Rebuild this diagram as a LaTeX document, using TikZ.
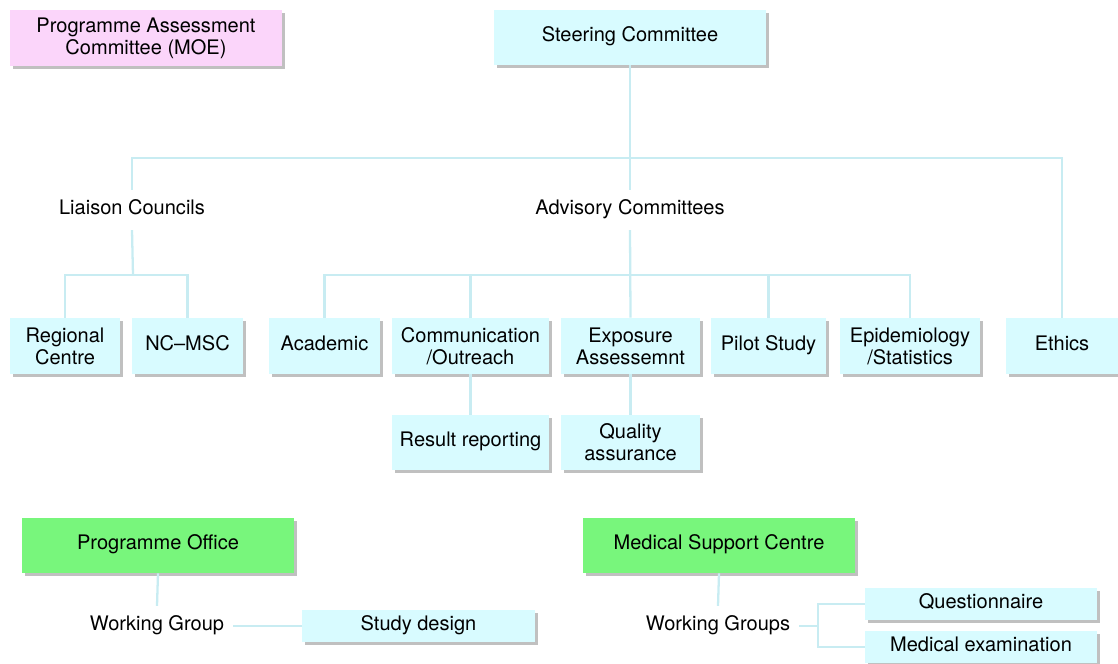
\documentclass[tikz,border=0pt]{standalone}
\usepackage{fontspec}
\setmainfont{TeX Gyre Heros}
\usepackage{tikz}
\usetikzlibrary{shadows}
\definecolor{boxcyan}{RGB}{216,251,255}
\definecolor{boxpink}{RGB}{251,213,250}
\definecolor{boxgreen}{RGB}{120,246,124}
\definecolor{linecyan}{RGB}{200,236,242}
\tikzstyle{unit} = [rectangle, draw=none, fill=boxcyan, align=center, inner sep=1pt,
	drop shadow={shadow xshift=1.6pt, shadow yshift=-1.6pt, fill=black!45, opacity=0.55}]
\tikzstyle{office} = [unit, fill=boxgreen]
\tikzstyle{moe} = [unit, fill=boxpink]
\tikzstyle{label} = [align=center, inner sep=5pt]
\tikzstyle{conn} = [draw=linecyan, line width=1.3pt]

\begin{document}
\begin{tikzpicture}[x=0.02cm,y=-0.02cm]
	\tikzstyle{every node}=[font=\fontsize{11.4}{12.6}\selectfont]
	\useasboundingbox (0,0) rectangle (1118,663);
	
	% ------------------- Top level ------------------- %
	\node[moe, minimum width=5.44cm, minimum height=1.12cm] (pac) at (146,38) {Programme Assessment\\Committee (MOE)};
	\node[unit, minimum width=5.44cm, minimum height=1.1cm] (steer) at (630,37.5) {Steering Committee\strut};
	
	\node[label] (liaison) at (132,210) {Liaison Councils\strut};
	\node[label] (advisory) at (630,210) {Advisory Committees\strut};
	
	% ------------------- Committee boxes ------------------- %
	\node[unit, minimum width=2.2cm, minimum height=1.12cm] (regional) at (65,346) {Regional\\Centre};
	\node[unit, minimum width=2.22cm, minimum height=1.12cm] (ncmsc) at (187.5,346) {NC--MSC\strut};
	\node[unit, minimum width=2.22cm, minimum height=1.12cm] (academic) at (324.5,346) {Academic\strut};
	\node[unit, minimum width=3.14cm, minimum height=1.12cm] (comm) at (470.5,346) {Communication\\/Outreach};
	\node[unit, minimum width=2.78cm, minimum height=1.12cm] (exposure) at (630.5,346) {Exposure\\Assessemnt};
	\node[unit, minimum width=2.3cm, minimum height=1.12cm] (pilot) at (768.5,346) {Pilot Study\strut};
	\node[unit, minimum width=2.8cm, minimum height=1.12cm] (epi) at (910,346) {Epidemiology\\/Statistics};
	\node[unit, minimum width=2.24cm, minimum height=1.12cm] (ethics) at (1062,346) {Ethics\strut};
	
	\node[unit, minimum width=3.14cm, minimum height=1.1cm] (result) at (470.5,442.5) {Result reporting\strut};
	\node[unit, minimum width=2.78cm, minimum height=1.1cm] (quality) at (630.5,442.5) {Quality\\assurance};
	
	% ------------------- Offices ------------------- %
	\node[office, minimum width=5.44cm, minimum height=1.1cm] (progoffice) at (158,545.5) {Programme Office\strut};
	\node[office, minimum width=5.44cm, minimum height=1.1cm] (msc) at (719,545.5) {Medical Support Centre\strut};
	
	\node[label] (wg) at (157,626) {Working Group\strut};
	\node[label] (wgs) at (718,626) {Working Groups\strut};
	
	\node[unit, minimum width=4.66cm, minimum height=0.64cm] (study) at (418.5,626) {Study design\strut};
	\node[unit, minimum width=4.64cm, minimum height=0.64cm] (quest) at (981,604) {Questionnaire\strut};
	\node[unit, minimum width=4.64cm, minimum height=0.64cm] (medexam) at (981,647) {Medical examination\strut};
	
	% ------------------- Connectors ------------------- %
	\coordinate (bar) at (630,158);
	\coordinate (lbar) at (133,275);
	\coordinate (abar) at (630,275);
	\coordinate (mbar) at (818,626);
	
	\draw[conn] (steer.south) -- (advisory.north);
	\draw[conn] (liaison.north) |- (bar) -| (ethics.north);
	
	\draw[conn] (liaison.south) -- (lbar);
	\draw[conn] (regional.north) |- (lbar) -| (ncmsc.north);
	
	\draw[conn] (advisory.south) -- (exposure.north);
	\draw[conn] (academic.north) |- (abar) -| (epi.north);
	\draw[conn] (comm.north) -- (comm.north |- abar);
	\draw[conn] (pilot.north) -- (pilot.north |- abar);
	
	\draw[conn] (comm.south) -- (result.north);
	\draw[conn] (exposure.south) -- (quality.north);
	
	\draw[conn] (progoffice.south) -- (wg.north);
	\draw[conn] (wg.east) -- (study.west);
	
	\draw[conn] (msc.south) -- (wgs.north);
	\draw[conn] (wgs.east) -- (mbar);
	\draw[conn] (quest.west) -| (mbar) |- (medexam.west);
	
\end{tikzpicture}
\end{document}
